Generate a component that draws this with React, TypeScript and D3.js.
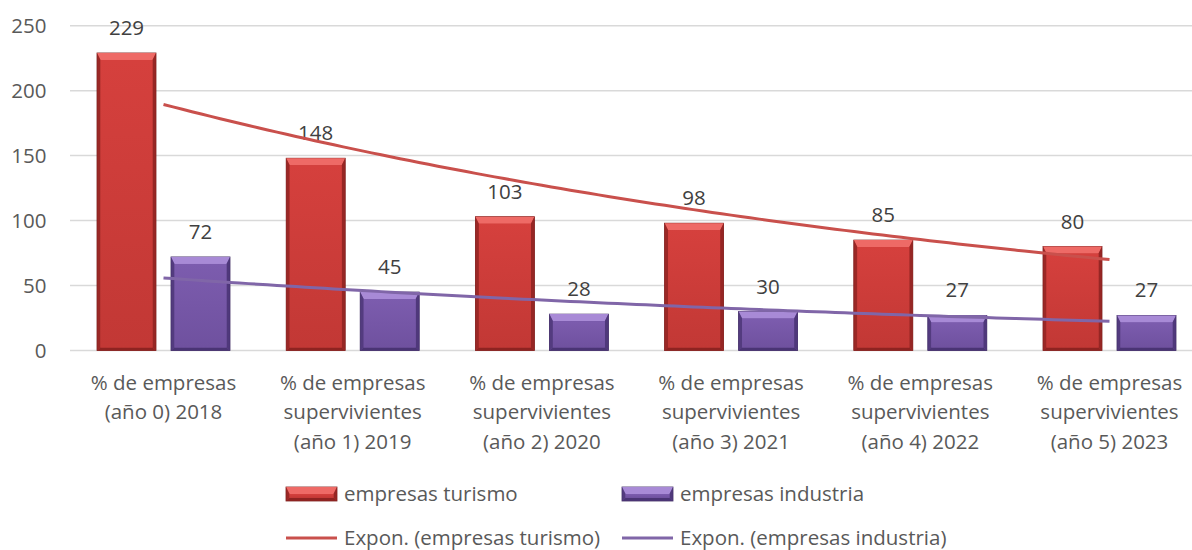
import React, { useEffect } from "react";
import * as d3 from "d3";

const categories = [
  ["% de empresas", "(año 0) 2018"],
  ["% de empresas", "supervivientes", "(año 1) 2019"],
  ["% de empresas", "supervivientes", "(año 2) 2020"],
  ["% de empresas", "supervivientes", "(año 3) 2021"],
  ["% de empresas", "supervivientes", "(año 4) 2022"],
  ["% de empresas", "supervivientes", "(año 5) 2023"],
];
const seriesNames = ["empresas turismo", "empresas industria"];
const turismo = [229, 148, 103, 98, 85, 80];
const industria = [72, 45, 28, 30, 27, 27];
const yTicks = [0, 50, 100, 150, 200, 250];

const W = 1192;
const H = 550;
const FONT = "'Open Sans', sans-serif";
const FS = 20.5;
const TXT = "#595959";

const palettes = [
  { light: "#ee6a66", main: "#d5403d", mid: "#c23835", dark: "#8e2321", edge: "#7a1f1d", trend: "#c9504c" },
  { light: "#a88ad6", main: "#7c5cae", mid: "#6f519f", dark: "#4a3474", edge: "#3d2a60", trend: "#8066a8" },
];

function expFit(vals: number[]) {
  const xs = vals.map((_, i) => i + 1);
  const ls = vals.map((v) => Math.log(v));
  const mx = d3.mean(xs)!;
  const ml = d3.mean(ls)!;
  let sxy = 0, sxx = 0;
  xs.forEach((x, i) => { sxy += (x - mx) * (ls[i] - ml); sxx += (x - mx) * (x - mx); });
  const b = sxy / sxx;
  const a = ml - b * mx;
  return (x: number) => Math.exp(a + b * x);
}

function Bar({ x, y, w, h, p }: { x: number; y: number; w: number; h: number; p: any }) {
  const bt = Math.min(7, h / 2), bs = 3.5, bb = 3;
  const x0 = x, x1 = x + w, y0 = y, y1 = y + h;
  return (
    <g>
      <rect x={x0} y={y0} width={w} height={h} fill={p.mid} stroke={p.edge} strokeWidth={0.8} />
      <polygon points={`${x0},${y0} ${x1},${y0} ${x1 - bs},${y0 + bt} ${x0 + bs},${y0 + bt}`} fill={p.light} />
      <polygon points={`${x0},${y0} ${x0 + bs},${y0 + bt} ${x0 + bs},${y1 - bb} ${x0},${y1}`} fill={p.dark} opacity={0.75} />
      <polygon points={`${x1},${y0} ${x1 - bs},${y0 + bt} ${x1 - bs},${y1 - bb} ${x1},${y1}`} fill={p.dark} opacity={0.85} />
      <polygon points={`${x0},${y1} ${x0 + bs},${y1 - bb} ${x1 - bs},${y1 - bb} ${x1},${y1}`} fill={p.dark} />
      <rect x={x0 + bs} y={y0 + bt} width={Math.max(0, w - 2 * bs)} height={Math.max(0, h - bt - bb)} fill={`url(#face${p === palettes[0] ? 0 : 1})`} />
    </g>
  );
}

export default function App() {
  useEffect(() => {
    document.body.style.margin = "0";
  }, []);

  const catIdx = categories.map((_, i) => String(i));
  const x = d3.scaleBand().domain(catIdx).range([68.9, 68.9 + 6 * 189.2]).padding(0);
  const xs = d3.scaleBand().domain(seriesNames).range([0, x.bandwidth()]).paddingInner(0.2027).paddingOuter(0.3797);
  const y = d3.scaleLinear().domain([0, 250]).range([350.5, 25.7]);
  const series = [turismo, industria];
  const cx = (t: number) => x(String(0))! + x.bandwidth() / 2 + (t - 1) * x.step();

  const trends = series.map((vals) => {
    const f = expFit(vals);
    const pts = d3.range(0, 101).map((k) => 1 + (5 * k) / 100);
    return d3.line<number>().x((t) => cx(t)).y((t) => y(f(t)))(pts)!;
  });

  return (
    <svg width={W} height={H} style={{ display: "block", background: "#fff" }} fontFamily={FONT}>
      <defs>
        {palettes.map((p, i) => (
          <linearGradient key={i} id={`face${i}`} x1="0" y1="0" x2="0" y2="1">
            <stop offset="0%" stopColor={p.main} />
            <stop offset="100%" stopColor={p.mid} />
          </linearGradient>
        ))}
      </defs>
      {yTicks.map((t) => (
        <g key={t}>
          <line x1={70} x2={W} y1={y(t)} y2={y(t)} stroke="#d9d9d9" strokeWidth={1.5} />
          <text x={46.5} y={y(t)} dy="0.36em" textAnchor="end" fontSize={FS} fill={TXT}>{t}</text>
        </g>
      ))}
      {series.map((vals, si) =>
        vals.map((v, ci) => {
          const bx = x(String(ci))! + xs(seriesNames[si])!;
          return (
            <g key={`${si}-${ci}`}>
              <Bar x={bx} y={y(v)} w={xs.bandwidth()} h={y(0) - y(v)} p={palettes[si]} />
              <text x={bx + xs.bandwidth() / 2} y={y(v) - 18} textAnchor="middle" fontSize={FS} fill="#404040">{v}</text>
            </g>
          );
        })
      )}
      {trends.map((d, i) => (
        <path key={i} d={d} fill="none" stroke={palettes[i].trend} strokeWidth={3} />
      ))}
      {categories.map((lines, ci) => (
        <text key={ci} x={x(String(ci))! + x.bandwidth() / 2} textAnchor="middle" fontSize={FS} fill={TXT}>
          {lines.map((l, li) => (
            <tspan key={li} x={x(String(ci))! + x.bandwidth() / 2} y={389.5 + li * 29.5}>{l}</tspan>
          ))}
        </text>
      ))}
      {/* legend */}
      {seriesNames.map((n, i) => {
        const lx = i === 0 ? 286 : 622;
        const ly = 487;
        const p = palettes[i];
        return (
          <g key={n}>
            <Bar x={lx} y={ly} w={51} h={14} p={p} />
            <text x={lx + 58} y={ly + 7} dy="0.36em" fontSize={FS} fill={TXT}>{n}</text>
          </g>
        );
      })}
      {seriesNames.map((n, i) => {
        const lx = i === 0 ? 286 : 622;
        const ly = 538;
        return (
          <g key={`t${n}`}>
            <line x1={lx} x2={lx + 51} y1={ly} y2={ly} stroke={palettes[i].trend} strokeWidth={3} />
            <text x={lx + 58} y={ly} dy="0.36em" fontSize={FS} fill={TXT}>{`Expon. (${n})`}</text>
          </g>
        );
      })}
    </svg>
  );
}
